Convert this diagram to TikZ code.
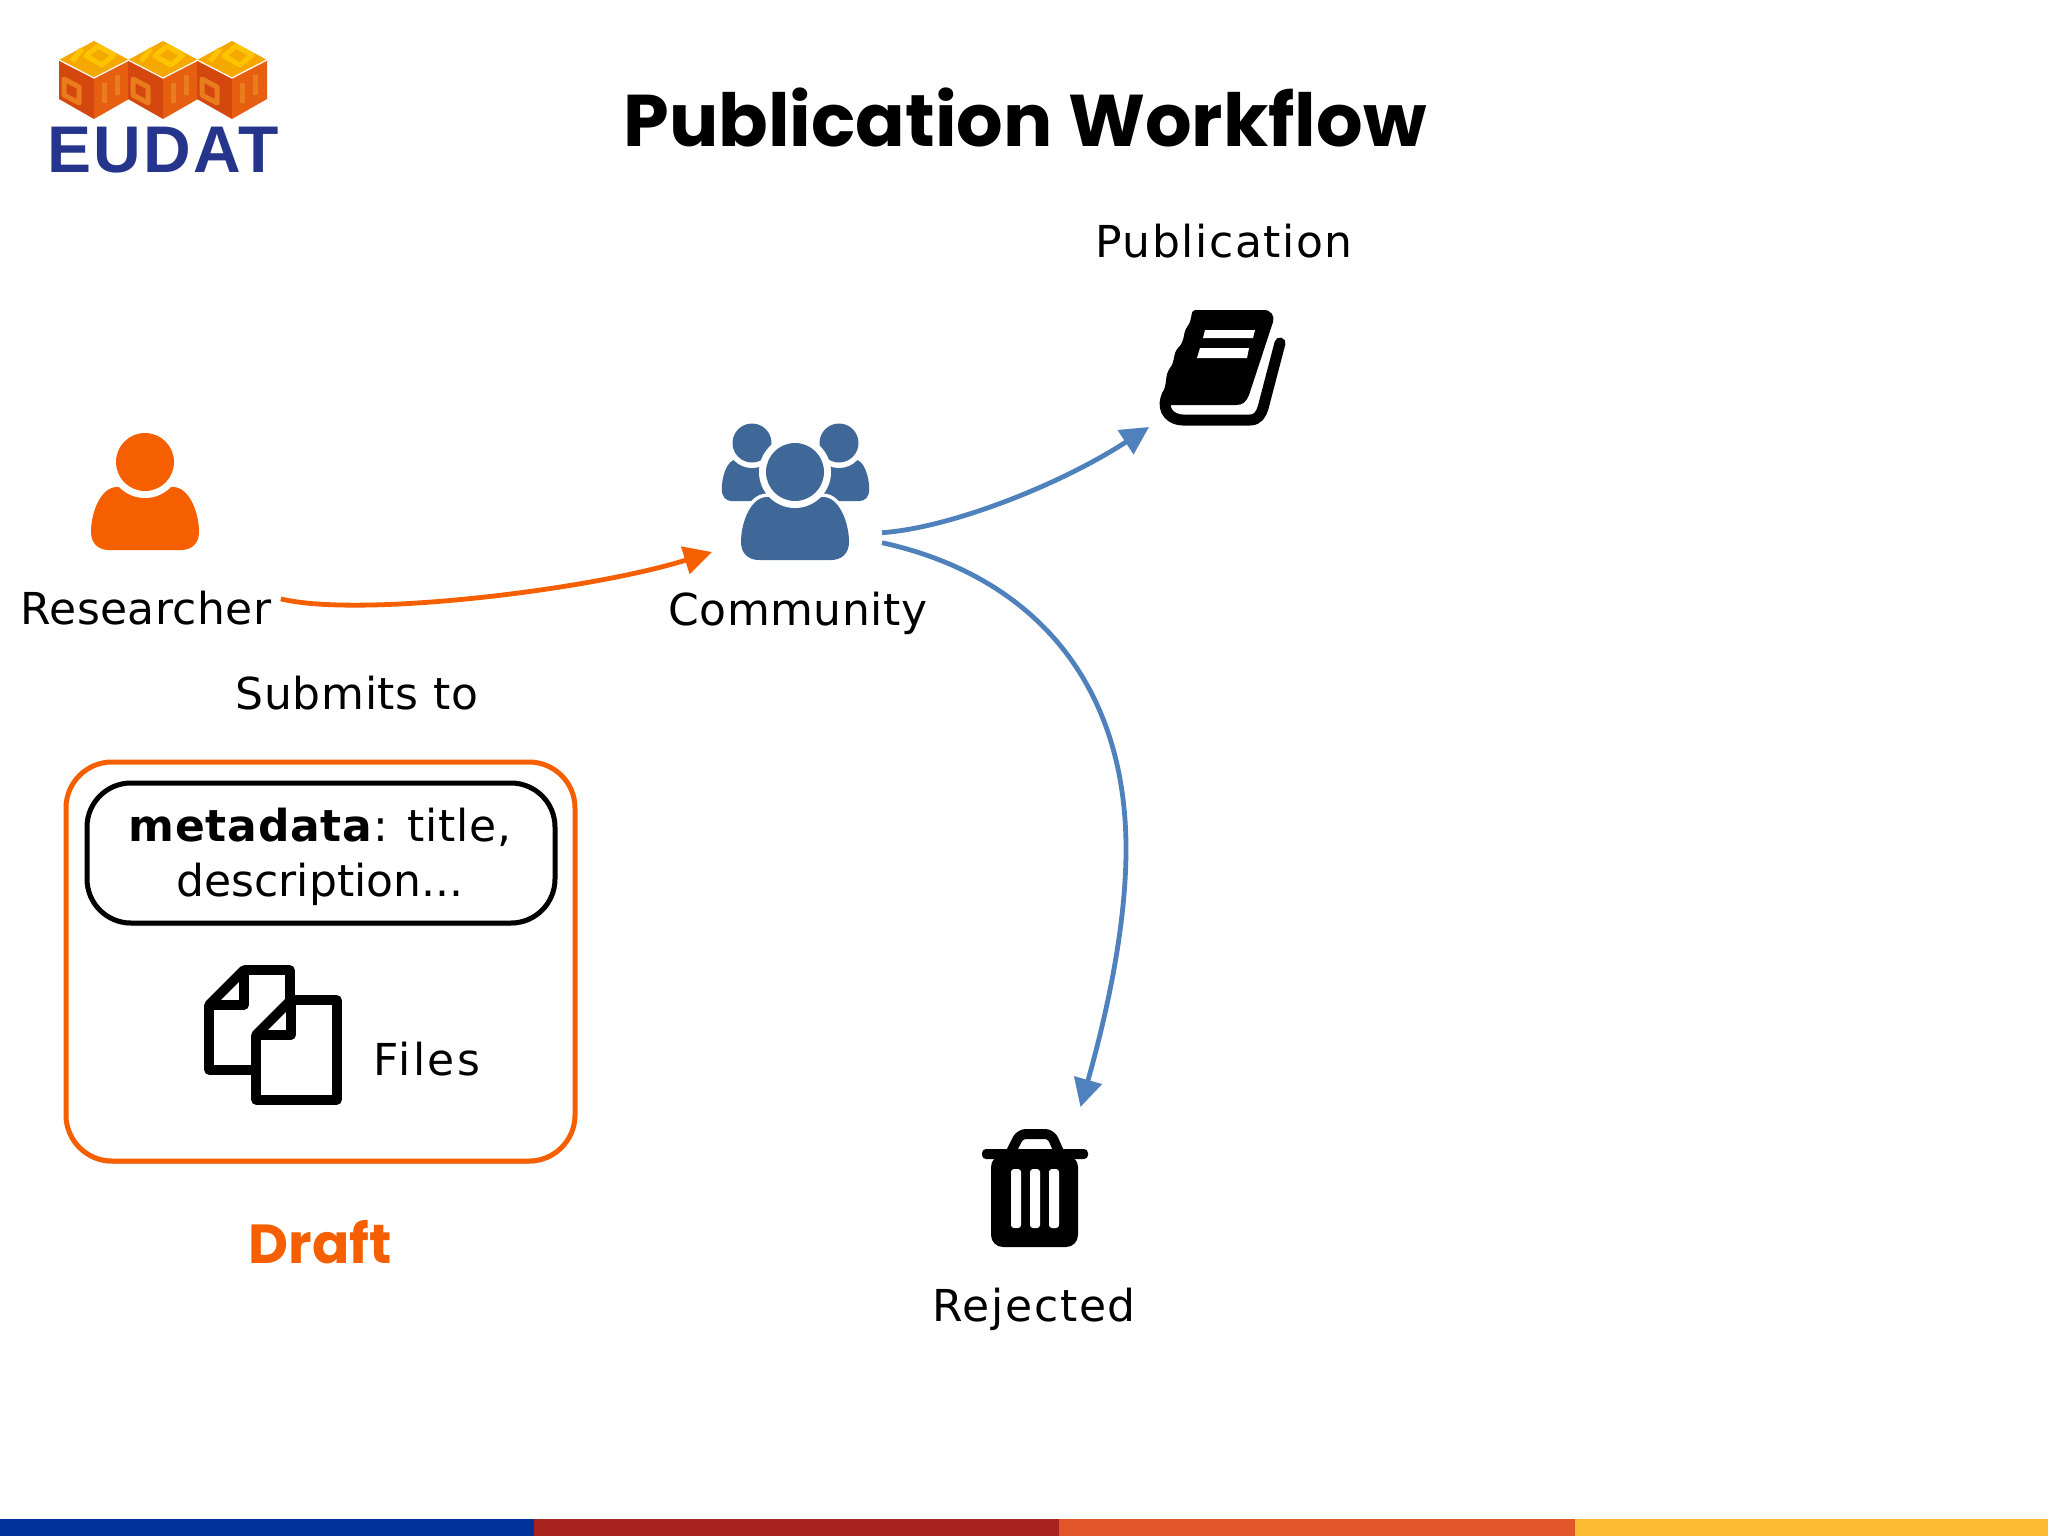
\documentclass[tikz,border=0pt]{standalone}
\usepackage{fontspec}
\usepackage{xcolor}
\setmainfont{DejaVu Sans}
\newfontfamily\titlefont{Poppins}
\newfontfamily\logofont[LetterSpace=3.3]{Liberation Sans}
\usetikzlibrary{
  arrows.meta,
  positioning,
  calc,
  shadows
}
\definecolor{isOrange}{HTML}{F65F00}
\definecolor{isBlue}{HTML}{3F6899}
\definecolor{isArrow}{HTML}{4F81BD}
\definecolor{isLogo}{HTML}{25358C}
\definecolor{isFaceL}{HTML}{D4470F}
\definecolor{isFaceR}{HTML}{E65E10}
\definecolor{isFaceT}{HTML}{F5A800}
\definecolor{isDigit}{HTML}{E97C1C}
\definecolor{isDigitT}{HTML}{FFC400}
\definecolor{isBandA}{HTML}{00329B}
\definecolor{isBandB}{HTML}{A6231F}
\definecolor{isBandC}{HTML}{E3562A}
\definecolor{isBandD}{HTML}{FBBC34}
\tikzset{
  pics/person/.style={code={
    \fill[#1] (-28,25) .. controls (-44,25) and (-54,50) .. (-54,70) .. controls (-54,82) and (-46,88) .. (-36,88)
      -- (36,88) .. controls (46,88) and (54,82) .. (54,70) .. controls (54,50) and (44,25) .. (28,25) -- cycle;
    \fill[white] (0,0) circle[radius=36];
    \fill[#1] (0,0) circle[radius=29];
  }},
  pics/docpage/.style={code={
    \draw[fill=white, line width=4.8pt, line join=round] (35,0) -- (81,0) -- (81,100) -- (0,100) -- (0,35) -- cycle;
    \draw[line width=4.8pt, line join=round] (35,0) -- (35,35) -- (0,35);
  }},
  iconbox/.style={inner sep=0pt, outer sep=0pt},
  caption/.style={font=\fontsize{22}{27.5}\selectfont\addfontfeatures{LetterSpace=#1}, align=center, inner sep=2pt},
  flow/.style={-{Triangle[length=14pt, width=14pt]}, line width=2.4pt, draw=isArrow},
  softshadow/.style={drop shadow={shadow xshift=0pt, shadow yshift=-1.5pt, opacity=.18, fill=black}}
}

\begin{document}
\begin{tikzpicture}[x=.5pt, y=-.5pt]
  \useasboundingbox (0,0) rectangle (2048,1536);
  \fill[white] (0,0) rectangle (2048,1536);

  % footer band
  \foreach \xa/\xb/\col in {0/534/isBandA, 534/1059/isBandB, 1059/1575/isBandC, 1575/2048/isBandD}{
    \fill[\col] (\xa,1519) rectangle (\xb,1536);
  }

  % logo
  \foreach \cx in {94,163,232}{
    \begin{scope}[shift={(\cx,41)}]
      \fill[isFaceL] (-35,19) -- (0,37) -- (0,78) -- (-35,58) -- cycle;
      \fill[isFaceR] (35,19) -- (0,37) -- (0,78) -- (35,58) -- cycle;
      \fill[isFaceT] (0,0) -- (35,19) -- (0,37) -- (-35,19) -- cycle;
      \draw[isDigitT, line width=2.5pt, line join=round] (4,5) -- (20,14) -- (8,24) -- (-8,15) -- cycle;
      \draw[isDigitT, line width=2.5pt] (-12,8) -- (-22,20);
      \draw[isDigit, line width=2.5pt, line join=round] (-30,38) -- (-15,46) -- (-15,62) -- (-30,54) -- cycle;
      \draw[isDigit, line width=2.5pt] (10,42) -- (10,62);
      \draw[isDigit, line width=2.5pt] (23,34) -- (23,54);
      \draw[white, line width=.6pt] (-35,19) -- (0,37) -- (35,19);
    \end{scope}
  }
  \node[font=\logofont\bfseries\fontsize{33}{33}\selectfont, text=isLogo, inner sep=0pt] (logoText) at (163,150) {EUDAT};

  \node[font=\titlefont\bfseries\fontsize{36.6}{36.6}\selectfont, inner sep=0pt] (title) at (1025,117) {Publication Workflow};

  % actors
  \node[caption=1] (researcher) at (146,608) {Researcher};
  \node[caption=1.3] (community) at (798,613) {Community};
  \node[caption=3.5] (publication) at (1224,241) {Publication};
  \node[caption=4] (rejected) at (1034,1309) {Rejected};
  \node[caption=1.5] (submits) at (357,693) {Submits to};

  \pic at (145,462) {person=isOrange};
  \foreach \hx in {752,839}{
    \pic[xscale=.56, yscale=.66] at (\hx,443) {person=isBlue};
    \fill[white] (\hx,443) circle[radius=25];
    \fill[isBlue] (\hx,443) circle[radius=19.5];
  }
  \begin{scope}[shift={(795,472)}]
    \draw[white, line width=3.5pt, fill=white] (-28,25) .. controls (-44,25) and (-54,50) .. (-54,70) .. controls (-54,82) and (-46,88) .. (-36,88)
      -- (36,88) .. controls (46,88) and (54,82) .. (54,70) .. controls (54,50) and (44,25) .. (28,25) -- cycle;
  \end{scope}
  \pic at (795,472) {person=isBlue};

  \node[iconbox, minimum width=85pt, minimum height=64.5pt] (communityIcon) at (797,487.5) {};
  \node[iconbox, minimum width=69.5pt, minimum height=59.5pt] (publicationIcon) at (1218.5,367.5) {};
  \node[iconbox, minimum width=54pt, minimum height=70pt] (rejectedIcon) at (1035,1177) {};

  % book
  \draw[line width=5.5pt, line cap=round] (1166,398) .. controls (1162,412) and (1172,420) .. (1183,420) -- (1250,420) .. controls (1258,420) and (1261,414) .. (1263,408) -- (1280,343);
  \fill (1195,310) -- (1264,310) .. controls (1271,310) and (1275,316) .. (1273,322) -- (1249,395) .. controls (1246,402) and (1243,405) .. (1236,405) -- (1168,405)
    .. controls (1160,405) and (1160,398) .. (1162,393) .. controls (1168,385) and (1164,376) .. (1170,368) .. controls (1176,360) and (1172,355) .. (1178,348)
    .. controls (1186,340) and (1182,335) .. (1187,327) .. controls (1193,320) and (1190,310) .. (1195,310) -- cycle;
  \fill[white] (1205,330) -- (1255,330) -- (1253,338) -- (1203,338) -- cycle;
  \fill[white] (1200,348) -- (1249,348) -- (1247,358) -- (1197,358) -- cycle;

  % trash
  \fill[rounded corners=2pt] (982,1149) rectangle (1088,1159);
  \fill[rounded corners=6pt] (991,1155) -- (1078,1155) -- (1078,1247) -- (991,1247) -- cycle;
  \draw[line width=5pt, line join=round, rounded corners=3pt] (1011,1152) -- (1020,1134) -- (1051,1134) -- (1059,1152);
  \foreach \x in {1011,1030,1049}{
    \fill[white, rounded corners=1.5pt] (\x,1169) rectangle ++(10,59);
  }

  % draft
  \node[draw=isOrange, line width=2.5pt, rounded corners=23pt, fill=white, softshadow, minimum width=254.5pt, minimum height=199.5pt, inner sep=0pt] (draftBox) at (320.5,961.5) {};
  \node[draw=black, line width=2.5pt, rounded corners=22pt, fill=white, softshadow, minimum width=234pt, minimum height=70pt, inner sep=0pt, font=\fontsize{22}{27.5}\selectfont, align=center] (metadataBox) at (321,853) {};
  \node[font=\fontsize{22}{27.5}\selectfont, align=center, inner sep=0pt] (metadataText) at (320,857) {\addfontfeatures{LetterSpace=1.7}\textbf{metadata}: title,\\description...};
  \pic at (209,970) {docpage};
  \pic at (256,1000) {docpage};
  \node[caption=6] (files) at (427,1059) {Files};
  \node[font=\titlefont\bfseries\fontsize{27.5}{27.5}\selectfont, text=isOrange, inner sep=0pt] (draftLabel) at (320,1242) {Draft};

  % arrows
  \draw[flow, draw=isOrange] ([xshift=2.5pt]researcher.4) .. controls (360,618) and (590,590) .. (communityIcon.south west);
  \draw[flow] (communityIcon.-28) .. controls (950,528) and (1060,485) .. (publicationIcon.south west);
  \draw[flow] (communityIcon.-33) .. controls (1030,575) and (1126,680) .. (1126,849) .. controls (1126,930) and (1105,1020) .. (rejectedIcon.57);
\end{tikzpicture}
\end{document}
